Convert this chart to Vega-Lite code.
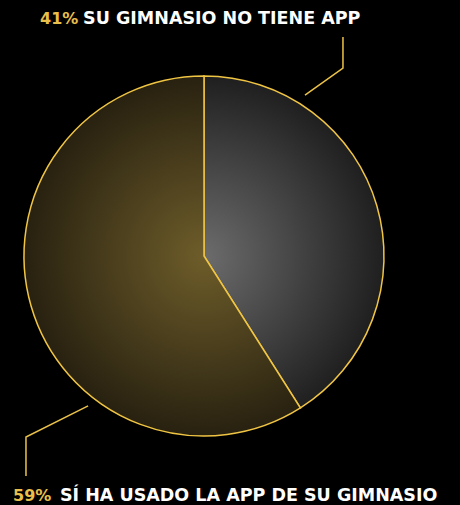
{
  "$schema": "https://vega.github.io/schema/vega-lite/v6.json",
  "width": 460,
  "height": 505,
  "padding": 0,
  "autosize": {"type": "none"},
  "background": "#000000",
  "config": {"view": {"stroke": null}},
  "datasets": {
    "slices": [
      {"key": "no_app", "value": 41, "ord": 1},
      {"key": "si_app", "value": 59, "ord": 2}
    ],
    "leaders": [
      {"grp": "top", "ord": 1, "x": 0.561, "y": 0.894},
      {"grp": "top", "ord": 2, "x": 0.772, "y": 1.044},
      {"grp": "top", "ord": 3, "x": 0.772, "y": 1.217},
      {"grp": "bottom", "ord": 1, "x": -0.644, "y": -0.833},
      {"grp": "bottom", "ord": 2, "x": -0.989, "y": -1.006},
      {"grp": "bottom", "ord": 3, "x": -0.989, "y": -1.222}
    ],
    "labels": [
      {"pct": "41%", "label": "SU GIMNASIO NO TIENE APP", "px": -0.911, "lx": -0.672, "y": 1.318},
      {"pct": "59%", "label": "SÍ HA USADO LA APP DE SU GIMNASIO", "px": -1.061, "lx": -0.8, "y": -1.336}
    ]
  },
  "encoding": {
    "x": {"type": "quantitative", "scale": {"domain": [-1.1333, 1.4222], "nice": false, "zero": false}, "axis": null},
    "y": {"type": "quantitative", "scale": {"domain": [-1.3833, 1.4222], "nice": false, "zero": false}, "axis": null}
  },
  "layer": [
    {
      "data": {"name": "slices"},
      "transform": [
        {"stack": "value", "groupby": [], "sort": [{"field": "ord", "order": "ascending"}], "as": ["t0", "t1"]},
        {"filter": "datum.key == 'no_app'"}
      ],
      "mark": {
        "type": "arc",
        "outerRadius": 180,
        "stroke": "#f0c544",
        "strokeWidth": 1.5,
        "fill": {
          "gradient": "radial",
          "x1": 0.228, "y1": 0.544, "r1": 0,
          "x2": 0.228, "y2": 0.544, "r2": 0.544,
          "stops": [
            {"offset": 0, "color": "#6c6c6c"},
            {"offset": 1, "color": "#1f1f1f"}
          ]
        }
      },
      "encoding": {
        "x": {"datum": 0, "type": "quantitative"},
        "y": {"datum": 0, "type": "quantitative"},
        "theta": {"field": "t0", "type": "quantitative", "scale": {"domain": [0, 100]}},
        "theta2": {"field": "t1"}
      }
    },
    {
      "data": {"name": "slices"},
      "transform": [
        {"stack": "value", "groupby": [], "sort": [{"field": "ord", "order": "ascending"}], "as": ["t0", "t1"]},
        {"filter": "datum.key == 'si_app'"}
      ],
      "mark": {
        "type": "arc",
        "outerRadius": 180,
        "stroke": "#f0c544",
        "strokeWidth": 1.5,
        "fill": {
          "gradient": "radial",
          "x1": 0.616, "y1": 0.5, "r1": 0,
          "x2": 0.616, "y2": 0.5, "r2": 0.5,
          "stops": [
            {"offset": 0, "color": "#6e5d2a"},
            {"offset": 1, "color": "#282110"}
          ]
        }
      },
      "encoding": {
        "x": {"datum": 0, "type": "quantitative"},
        "y": {"datum": 0, "type": "quantitative"},
        "theta": {"field": "t0", "type": "quantitative", "scale": {"domain": [0, 100]}},
        "theta2": {"field": "t1"}
      }
    },
    {
      "data": {"name": "leaders"},
      "mark": {"type": "line", "stroke": "#ebc247", "strokeWidth": 1.5},
      "encoding": {
        "x": {"field": "x", "type": "quantitative"},
        "y": {"field": "y", "type": "quantitative"},
        "detail": {"field": "grp"},
        "order": {"field": "ord"}
      }
    },
    {
      "data": {"name": "labels"},
      "mark": {"type": "text", "align": "left", "baseline": "middle", "font": "DejaVu Sans", "fontWeight": "bold", "fontSize": 16, "fill": "#e9bf4c"},
      "encoding": {
        "x": {"field": "px", "type": "quantitative"},
        "y": {"field": "y", "type": "quantitative"},
        "text": {"field": "pct"}
      }
    },
    {
      "data": {"name": "labels"},
      "mark": {"type": "text", "align": "left", "baseline": "middle", "font": "DejaVu Sans", "fontWeight": "bold", "fontSize": 17.5, "fill": "#ffffff"},
      "encoding": {
        "x": {"field": "lx", "type": "quantitative"},
        "y": {"field": "y", "type": "quantitative"},
        "text": {"field": "label"}
      }
    }
  ]
}
